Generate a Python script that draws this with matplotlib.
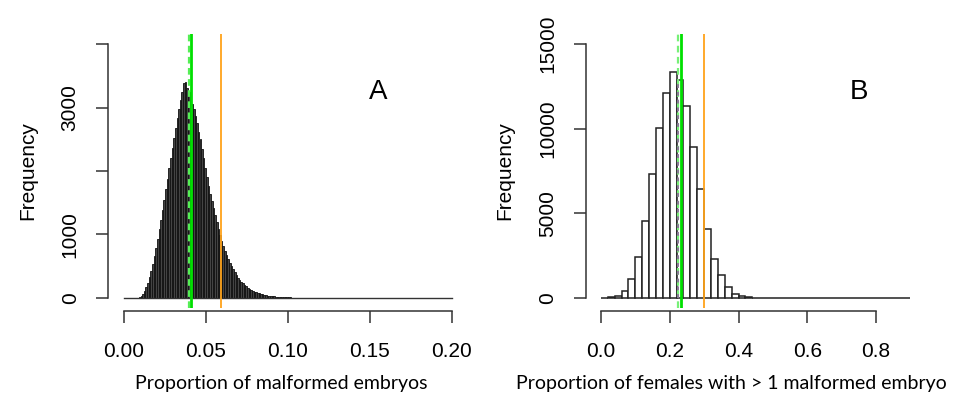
import numpy as np
import matplotlib
matplotlib.use("Agg")
import matplotlib.pyplot as plt

plt.rcParams['font.family'] = ['Liberation Sans', 'DejaVu Sans']

# panel A: proportion of malformed embryos, bins of 0.001 from 0 to 0.2
bin_a = 0.001
start_a = 0.008
counts_a = [5, 12, 30, 60, 110, 170, 240, 330, 430, 540,
            660, 790, 930, 1080, 1230, 1390, 1550, 1720, 1880, 2050,
            2210, 2370, 2520, 2680, 2830, 2980, 3120, 3250, 3380, 3410,
            3310, 3240, 3130, 3050, 2980, 2870, 2760, 2620, 2500, 2350,
            2200, 2050, 1900, 1760, 1640, 1520, 1410, 1300, 1190, 1090,
            990, 900, 820, 740, 670, 610, 550, 500, 450, 400,
            360, 320, 285, 255, 228, 203, 180, 160, 142, 126,
            112, 99, 88, 78, 69, 61, 54, 48, 42, 37,
            33, 29, 25, 22, 19, 17, 15, 13, 11, 10,
            9, 8, 7, 6, 5, 4, 4, 3, 3, 2,
            2, 2, 1, 1, 1, 1, 1]
mean_a = 0.0393
median_a = 0.0409
obs_a = 0.059

# panel B: proportion of females with > 1 malformed embryo, bins of 0.02 from 0 to 0.9
bin_b = 0.02
counts_b = [5, 40, 130, 390, 1100, 2400, 4570, 7310, 10030, 12130,
            13370, 12880, 11340, 8900, 6420, 4060, 2320, 1330, 640, 230,
            90, 40, 15, 5, 0, 0, 0, 0, 0, 0,
            0, 0, 0, 0, 0, 0, 0, 0, 0, 0,
            0, 0, 0, 0, 0]
mean_b = 0.225
median_b = 0.233
obs_b = 0.30

fig = plt.figure(figsize=(9.61, 3.96), dpi=100)
ax_a = fig.add_axes([111 / 961, 88 / 396, 354 / 961, 274 / 396])
ax_b = fig.add_axes([588.6 / 961, 88 / 396, 334.2 / 961, 274 / 396])


def r_axes(ax, xlim, ylim, xticks, yticks, ylabels):
    x0, x1 = xlim
    y0, y1 = ylim
    dx = (x1 - x0) * 0.04
    dy = (y1 - y0) * 0.04
    ax.set_xlim(x0 - dx, x1 + dx)
    ax.set_ylim(y0 - dy, y1 + dy)
    for s in ['top', 'right']:
        ax.spines[s].set_visible(False)
    ax.spines['left'].set_bounds(yticks[0], yticks[-1])
    ax.spines['bottom'].set_bounds(xticks[0], xticks[-1])
    for s in ['left', 'bottom']:
        ax.spines[s].set_linewidth(1.1)
        ax.spines[s].set_color('#333333')
        ax.spines[s].set_position(('outward', 2))
    ax.set_xticks(xticks)
    ax.set_yticks(yticks)
    ax.set_yticklabels(ylabels, rotation=90, va='center')
    ax.tick_params(direction='out', length=8.5, width=1.1, color='#333333',
                   labelsize=15)
    ax.tick_params(axis='x', pad=14)
    ax.tick_params(axis='y', pad=12)
    ax.set_ylabel('Frequency', fontsize=15, labelpad=17)
    ax.patch.set_alpha(0)


# panel A
edges_a = start_a + bin_a * np.arange(len(counts_a))
ax_a.plot([0, 0.2], [0, 0], color='#333333', lw=1.0)
ax_a.bar(edges_a, counts_a, width=bin_a, align='edge',
         color='#444444', edgecolor='#111111', linewidth=0.6)
ax_a.axvline(mean_a, color='#55ee55', lw=1.6, ls=(0, (3, 2)))
ax_a.axvline(median_a, color='#00e000', lw=2.0)
ax_a.axvline(obs_a, color='#ffa31a', lw=1.3)
r_axes(ax_a, (0, 0.2), (0, 4000), [0, 0.05, 0.10, 0.15, 0.20],
       [0, 1000, 2000, 3000, 4000], ['0', '1000', '', '3000', ''])
ax_a.set_xticklabels(['0.00', '0.05', '0.10', '0.15', '0.20'])
ax_a.text(0.155, 3250, 'A', fontsize=20, ha='center', va='center')

# panel B
edges_b = bin_b * np.arange(len(counts_b))
ax_b.bar(edges_b, counts_b, width=bin_b, align='edge',
         color='white', edgecolor='#222222', linewidth=1.1)
ax_b.axvline(mean_b, color='#77f077', lw=1.6, ls=(0, (3, 2)))
k = int(mean_b // bin_b)
ax_b.plot([mean_b, mean_b], [0, counts_b[k]], color='#8a7896', lw=1.4,
          ls=(0, (2, 2)))
ax_b.axvline(median_b, color='#00e000', lw=2.0)
ax_b.axvline(obs_b, color='#ffa31a', lw=1.3)
r_axes(ax_b, (0, 0.9), (0, 15000), [0, 0.2, 0.4, 0.6, 0.8],
       [0, 5000, 10000, 15000], ['0', '5000', '10000', '15000'])
ax_b.set_xticklabels(['0.0', '0.2', '0.4', '0.6', '0.8'])
ax_b.text(0.75, 12200, 'B', fontsize=20, ha='center', va='center')

fig.text(281 / 961, 1 - 383 / 396, 'Proportion of malformed embryos',
         family=['Lato', 'DejaVu Sans'], fontsize=14, ha='center', va='center')
fig.text(731 / 961, 1 - 383 / 396, 'Proportion of females with > 1 malformed embryo',
         family=['Lato', 'DejaVu Sans'], fontsize=14, ha='center', va='center')

fig.savefig('out.png', dpi=100)
